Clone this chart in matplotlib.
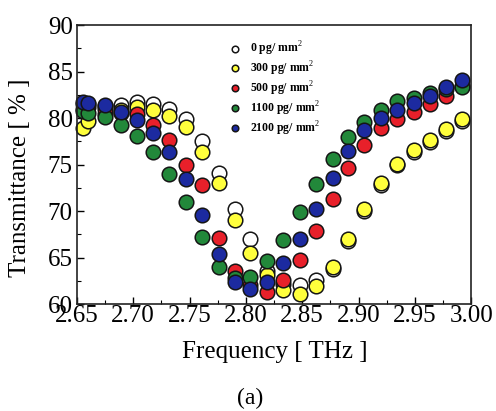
import matplotlib
matplotlib.use("Agg")
from matplotlib import pyplot as plt

plt.rcParams['font.family'] = ['Liberation Serif', 'DejaVu Serif']
plt.rcParams['mathtext.fontset'] = 'custom'
plt.rcParams['mathtext.rm'] = 'Liberation Serif'
plt.rcParams['mathtext.bf'] = 'Liberation Serif:bold'

# frequency grid [THz]
freq = [2.655, 2.660, 2.675, 2.689, 2.703, 2.718, 2.732, 2.747, 2.761, 2.776,
        2.790, 2.804, 2.819, 2.833, 2.848, 2.862, 2.877, 2.891, 2.905, 2.920,
        2.934, 2.949, 2.963, 2.978, 2.992]

# transmittance [%] for each surface density
t_0 = [81.5, 81.5, 81.3, 81.4, 81.7, 81.5, 81.0, 79.9, 77.5, 74.1,
       70.2, 67.0, 63.5, 62.2, 62.0, 62.6, 63.8, 66.8, 70.0, 72.8,
       74.9, 76.4, 77.4, 78.6, 79.7]
t_300 = [78.9, 79.7, 80.4, 80.9, 81.2, 80.9, 80.2, 79.0, 76.4, 73.0,
         69.0, 65.5, 63.1, 61.5, 61.1, 61.9, 64.0, 67.0, 70.2, 73.0,
         75.1, 76.6, 77.6, 78.8, 79.9]
t_500 = [81.0, 81.2, 81.0, 80.5, 80.4, 79.3, 77.6, 75.0, 72.8, 67.1,
         63.6, 62.0, 61.3, 62.6, 64.7, 67.9, 71.3, 74.6, 77.1, 78.9,
         79.9, 80.7, 81.5, 82.4, 83.5]
t_1100 = [80.8, 80.5, 80.1, 79.2, 78.1, 76.3, 74.0, 71.0, 67.2, 64.0,
          62.8, 62.9, 64.6, 66.9, 69.9, 72.9, 75.6, 78.0, 79.6, 80.9,
          81.8, 82.2, 82.7, 83.1, 83.3]
t_2100 = [81.7, 81.65, 81.4, 80.7, 79.8, 78.4, 76.3, 73.4, 69.6, 65.4,
          62.4, 61.6, 62.4, 64.4, 67.0, 70.2, 73.5, 76.5, 78.7, 80.0,
          80.9, 81.6, 82.4, 83.3, 84.1]

series = [t_0, t_300, t_500, t_1100, t_2100]
labels = ['0 pg/ mm$^2$', '300 pg/ mm$^2$', '500 pg/ mm$^2$',
          '1100 pg/ mm$^2$', '2100 pg/ mm$^2$']
colors = ['#ffffff', '#ffff3c', '#e8202a', '#22883a', '#1c2aa0']

fig = plt.figure(figsize=(4.96, 4.11), dpi=100)
ax = fig.add_axes([0.155, 0.2603, 0.795, 0.6787])

for vals, lab, col in zip(series, labels, colors):
    ax.plot(freq, vals, linestyle='none', marker='o', markersize=10.5,
            markerfacecolor=col, markeredgecolor='#151515',
            markeredgewidth=1.1, label=lab, clip_on=False)

ax.set_xlim(2.65, 3.00)
ax.set_ylim(60, 90)
ax.set_xticks([2.65, 2.70, 2.75, 2.80, 2.85, 2.90, 2.95, 3.00])
ax.set_xticklabels(['%.2f' % v for v in ax.get_xticks()])
ax.set_yticks([60, 65, 70, 75, 80, 85, 90])
ax.set_xticks([2.675, 2.725, 2.775, 2.825, 2.875, 2.925, 2.975], minor=True)
ax.set_yticks([62.5, 67.5, 72.5, 77.5, 82.5, 87.5], minor=True)
ax.tick_params(which='both', direction='in', top=False, right=False)
ax.tick_params(which='major', length=5, width=1, labelsize=18)
ax.tick_params(which='minor', length=3, width=0.8)
ax.tick_params(axis='x', pad=1)
ax.tick_params(axis='y', pad=3)
for sp in ax.spines.values():
    sp.set_linewidth(1.2)
    sp.set_color('#222222')

leg = ax.legend(loc='upper left', bbox_to_anchor=(0.36, 0.985), frameon=False,
                prop={'weight': 'bold', 'size': 8.5}, markerscale=0.45,
                handlelength=1.0, handletextpad=0.7, labelspacing=0.13)

fig.text(20 / 496, 1 - 177.5 / 411, 'Transmittance [ % ]', rotation=90,
         ha='center', va='center', fontsize=18)
fig.text(275 / 496, 1 - 352 / 411, 'Frequency [ THz ]',
         ha='center', va='center', fontsize=18)
fig.text(250 / 496, 1 - 398 / 411, '(a)', ha='center', va='center', fontsize=17)

fig.savefig('out.png', dpi=100)
